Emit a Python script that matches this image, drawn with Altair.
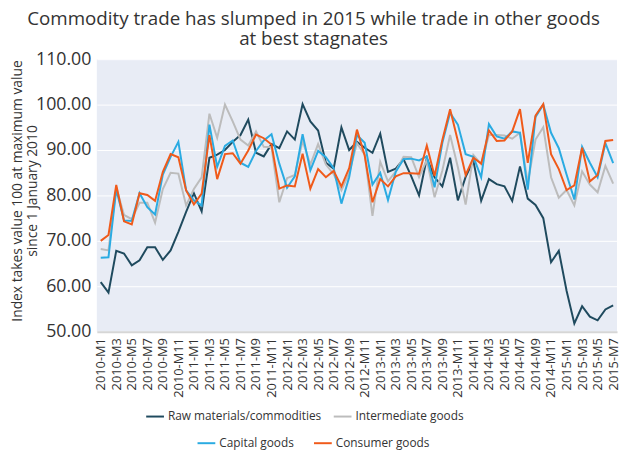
import altair as alt
import pandas as pd

years = [2010, 2011, 2012, 2013, 2014, 2015]
months = [f"{y}-M{m}" for y in years for m in range(1, 13)][:67]
tick_months = months[::2]
y_ticks = [50, 60, 70, 80, 90, 100, 110]

series_names = ["Raw materials/commodities", "Intermediate goods", "Capital goods", "Consumer goods"]
series_colors = ["#1f4a5e", "#bcbcbc", "#2aabe2", "#f05a1a"]

raw = [60.9, 58.6, 67.8, 67.2, 64.6, 65.7, 68.6, 68.6, 65.8, 67.9,
       72.0, 76.4, 80.5, 76.5, 88.3, 89.0, 90.0, 91.8, 93.3, 96.7,
       89.4, 88.6, 91.3, 90.4, 94.1, 92.3, 100.1, 96.3, 94.3, 87.2,
       85.9, 95.0, 90.0, 91.8, 90.5, 89.4, 93.6, 85.2, 85.9, 88.0,
       84.2, 80.0, 88.2, 84.0, 82.0, 88.3, 78.9, 84.1, 87.6, 78.8,
       83.6, 82.5, 82.0, 78.8, 86.4, 79.3, 77.9, 75.0, 65.3, 67.8,
       59.0, 51.8, 55.6, 53.3, 52.5, 54.9, 55.8]

intermediate = [68.2, 67.9, 81.8, 75.7, 74.8, 78.4, 78.4, 74.0, 81.4, 85.0,
                84.8, 77.8, 81.4, 84.0, 98.0, 92.7, 100.0, 96.3, 92.3, 91.0,
                94.1, 90.7, 90.6, 78.5, 83.8, 84.5, 92.0, 86.8, 91.3, 86.8,
                84.7, 81.1, 84.9, 91.5, 89.0, 75.5, 87.4, 83.1, 85.3, 88.5,
                88.4, 84.0, 87.8, 79.6, 85.5, 93.3, 86.2, 78.0, 88.9, 86.9,
                93.3, 93.3, 93.2, 92.5, 93.8, 82.8, 92.3, 95.0, 84.0, 79.5,
                81.2, 77.8, 85.3, 82.4, 80.7, 86.5, 82.6]

capital = [66.3, 66.4, 81.3, 74.5, 74.4, 80.5, 77.4, 75.8, 84.6, 88.5,
           91.8, 81.1, 78.9, 77.8, 95.6, 86.3, 90.9, 92.1, 87.2, 86.3,
           89.8, 92.1, 93.5, 87.0, 81.7, 84.2, 93.5, 85.5, 89.8, 88.4,
           86.0, 78.2, 84.0, 93.3, 91.6, 82.4, 85.0, 79.0, 85.2, 88.0,
           88.1, 87.7, 88.6, 81.8, 91.6, 98.2, 95.6, 89.1, 88.5, 84.0,
           95.7, 93.0, 92.5, 94.1, 93.8, 81.3, 97.3, 100.0, 93.8, 90.4,
           84.6, 79.1, 90.7, 87.2, 84.0, 91.5, 87.1]

consumer = [70.0, 71.3, 82.3, 74.3, 73.6, 80.5, 80.1, 78.8, 85.2, 89.1,
            88.4, 81.1, 78.0, 80.4, 93.3, 83.6, 89.1, 89.3, 87.0, 89.9,
            93.4, 92.6, 91.2, 81.5, 82.2, 82.0, 89.2, 81.5, 85.8, 84.0,
            85.4, 82.0, 86.0, 94.5, 88.8, 78.5, 83.6, 82.0, 84.2, 84.9,
            84.9, 84.8, 91.0, 84.3, 92.2, 99.0, 92.0, 84.5, 88.3, 87.0,
            94.3, 92.0, 92.1, 94.1, 99.0, 87.2, 97.6, 100.1, 89.1, 85.8,
            81.2, 82.2, 90.5, 83.1, 84.5, 92.0, 92.2]


def long_df(pairs):
    rows = []
    for name, vals in pairs:
        for m, v in zip(months, vals):
            rows.append({"month": m, "value": v, "series": name})
    return pd.DataFrame(rows)


df1 = long_df([(series_names[0], raw), (series_names[1], intermediate)])
df2 = long_df([(series_names[2], capital), (series_names[3], consumer)])

FONT = "Open Sans"

x_enc = alt.X(
    "month:O",
    sort=months,
    scale=alt.Scale(type="point", domain=months, padding=0.5),
    axis=alt.Axis(
        values=tick_months, labelAngle=-90, title=None, ticks=False,
        labelPadding=6, labelFontSize=13, labelFont=FONT, labelColor="#333333",
        domain=True, domainColor="#d6d6d6", domainWidth=2, grid=False,
    ),
)
y_enc = alt.Y(
    "value:Q",
    scale=alt.Scale(domain=[50, 110], nice=False, zero=False),
    axis=alt.Axis(
        values=y_ticks, format=".2f", ticks=False, domain=False,
        labelPadding=6, labelFontSize=18, labelFont=FONT, labelColor="#333333",
        grid=True, gridColor="#ffffff", gridWidth=1,
        title=["Index takes value 100 at maximum value", "since 1 January 2010"],
        titleFont=FONT, titleFontSize=14, titleFontWeight="normal", titleColor="#333333",
        titleAngle=-90, titleX=-87, titleY=133, titleBaseline="top", titleAlign="center",
        titleLineHeight=15,
    ),
)

legend_common = dict(
    orient="none", direction="horizontal", title=None,
    symbolType="stroke", symbolStrokeWidth=2, symbolSize=324,
    labelFont=FONT, labelFontSize=12, labelColor="#333333", labelLimit=400,
    labelOffset=3, padding=0,
)

l1 = alt.Chart(df1).mark_line(strokeWidth=2).encode(
    x=x_enc, y=y_enc,
    color=alt.Color(
        "series:N",
        scale=alt.Scale(domain=series_names[:2], range=series_colors[:2]),
        legend=alt.Legend(legendX=49, legendY=352, columnPadding=8, **legend_common),
    ),
)
l2 = alt.Chart(df2).mark_line(strokeWidth=2).encode(
    x=x_enc, y=y_enc,
    stroke=alt.Stroke(
        "series:N",
        scale=alt.Scale(domain=series_names[2:], range=series_colors[2:]),
        legend=alt.Legend(legendX=101, legendY=379, columnPadding=16, **legend_common),
    ),
)

chart = alt.layer(l1, l2).properties(
    width=527, height=276,
    title=alt.Title(
        ["Commodity trade has slumped in 2015 while trade in other goods", "at best stagnates"],
        font=FONT, fontSize=19, fontWeight="normal", color="#333333",
        anchor="middle", frame="group", dx=-44, offset=1, lineHeight=21,
    ),
    autosize=alt.AutoSizeParams(type="none"),
    padding={"left": 90, "top": 49, "right": 3, "bottom": 117},
).configure_view(fill="#e8ecf5", stroke=None)

chart.save("out.html", embed_options={"renderer": "svg", "actions": False})
